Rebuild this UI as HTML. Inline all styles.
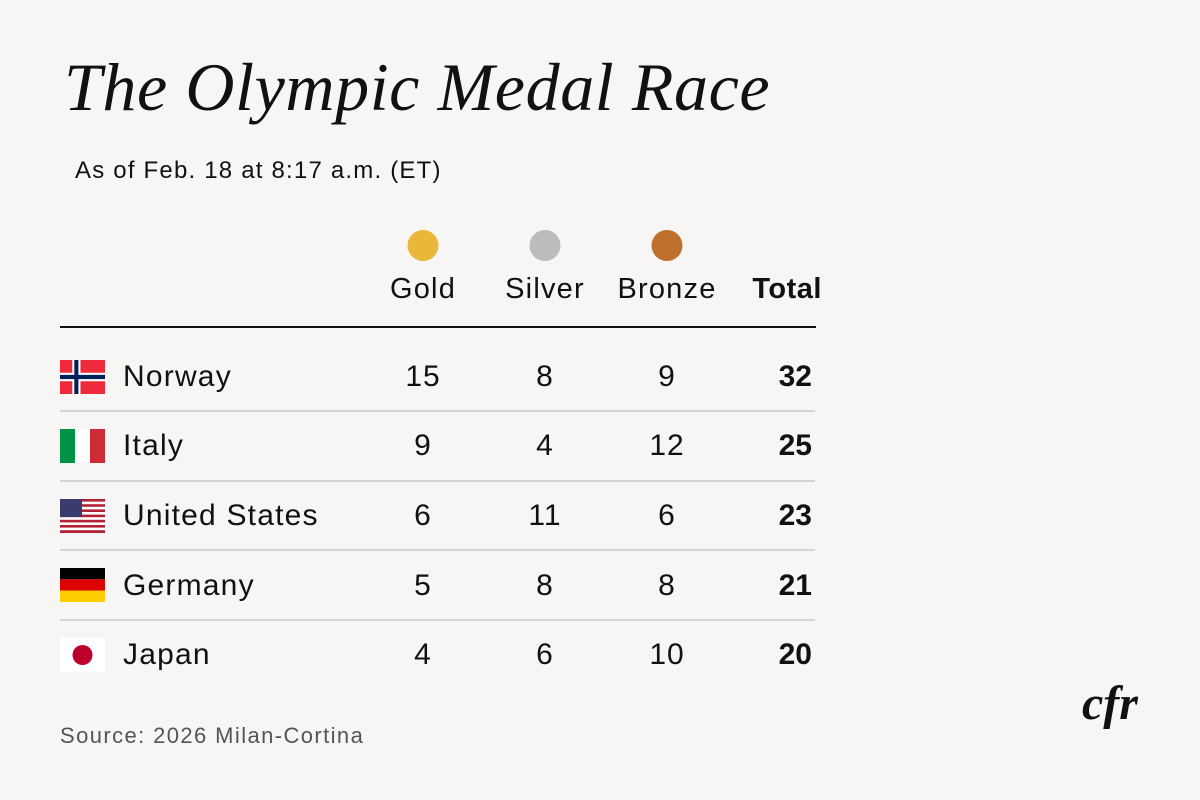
<!DOCTYPE html>
<html><head><meta charset="utf-8"><style>
body{margin:0;width:1200px;height:800px;background:#f7f6f4;position:relative;overflow:hidden;font-family:"Liberation Sans",sans-serif;color:#111}
.a{position:absolute;white-space:nowrap}
.t{left:64px;top:48px;font-family:"Liberation Serif",serif;font-style:italic;font-size:68px;letter-spacing:0.6px;color:#111}
.s{left:75px;top:157px;font-size:24px;letter-spacing:1.2px}
.h{top:273px;font-size:29px;letter-spacing:1.2px;transform:translateX(-50%)}
.c{top:230px;width:31px;height:31px;border-radius:50%;transform:translateX(-50%)}
.n{font-size:30px;letter-spacing:1px;transform:translate(-50%,-50%)}
.tot{font-size:30px;font-weight:bold;transform:translateY(-50%);right:388px}
.name{left:123px;font-size:30px;letter-spacing:1.2px;transform:translateY(-50%)}
.line{left:60px;width:755px;height:2px;background:#d6d5d3}
.flag{left:60px;width:45px;height:34px;overflow:hidden}
</style></head><body>
<div class="a t">The Olympic Medal Race</div>
<div class="a s">As of Feb. 18 at 8:17 a.m. (ET)</div>
<div class="a c" style="left:423px;background:#e9b83a"></div>
<div class="a c" style="left:545px;background:#bdbcbc"></div>
<div class="a c" style="left:667px;background:#c0702d"></div>
<div class="a h" style="left:423px">Gold</div>
<div class="a h" style="left:545px">Silver</div>
<div class="a h" style="left:667px">Bronze</div>
<div class="a" style="top:273px;right:378px;font-size:29px;font-weight:bold;letter-spacing:0.5px">Total</div>
<div class="a" style="left:60px;top:326px;width:756px;height:2px;background:#111"></div>
<div class="a line" style="top:410px"></div>
<div class="a line" style="top:480px"></div>
<div class="a line" style="top:549px"></div>
<div class="a line" style="top:619px"></div>

<svg class="a flag" style="top:360px" viewBox="0 0 22 16" preserveAspectRatio="none"><rect width="22" height="16" fill="#ee2a3b"/><rect x="6" width="4" height="16" fill="#fff"/><rect y="6" width="22" height="4" fill="#fff"/><rect x="7" width="2" height="16" fill="#00205b"/><rect y="7" width="22" height="2" fill="#00205b"/></svg>
<svg class="a flag" style="top:429px" viewBox="0 0 3 2" preserveAspectRatio="none"><rect width="1" height="2" fill="#009246"/><rect x="1" width="1" height="2" fill="#fff"/><rect x="2" width="1" height="2" fill="#ce2b37"/></svg>
<svg class="a flag" style="top:499px" viewBox="0 0 45 34"><rect width="45" height="34" fill="#fff"/><g fill="#b22234"><rect y="0" width="45" height="2.6"/><rect y="5.2" width="45" height="2.6"/><rect y="10.4" width="45" height="2.6"/><rect y="15.6" width="45" height="2.6"/><rect y="20.8" width="45" height="2.6"/><rect y="26" width="45" height="2.6"/><rect y="31.2" width="45" height="2.8"/></g><rect width="22" height="18" fill="#3c3b6e"/></svg>
<svg class="a flag" style="top:568px" viewBox="0 0 3 3" preserveAspectRatio="none"><rect width="3" height="1" fill="#000"/><rect y="1" width="3" height="1" fill="#dd0000"/><rect y="2" width="3" height="1" fill="#ffce00"/></svg>
<svg class="a flag" style="top:638px" viewBox="0 0 45 34"><rect width="45" height="34" fill="#fff"/><circle cx="22.5" cy="17" r="10" fill="#bc002d"/></svg>

<div class="a name" style="top:377px">Norway</div>
<div class="a name" style="top:446px">Italy</div>
<div class="a name" style="top:516px">United States</div>
<div class="a name" style="top:586px">Germany</div>
<div class="a name" style="top:655px">Japan</div>

<div class="a n" style="left:423px;top:377px">15</div><div class="a n" style="left:545px;top:377px">8</div><div class="a n" style="left:667px;top:377px">9</div><div class="a tot" style="top:377px">32</div>
<div class="a n" style="left:423px;top:446px">9</div><div class="a n" style="left:545px;top:446px">4</div><div class="a n" style="left:667px;top:446px">12</div><div class="a tot" style="top:446px">25</div>
<div class="a n" style="left:423px;top:516px">6</div><div class="a n" style="left:545px;top:516px">11</div><div class="a n" style="left:667px;top:516px">6</div><div class="a tot" style="top:516px">23</div>
<div class="a n" style="left:423px;top:586px">5</div><div class="a n" style="left:545px;top:586px">8</div><div class="a n" style="left:667px;top:586px">8</div><div class="a tot" style="top:586px">21</div>
<div class="a n" style="left:423px;top:655px">4</div><div class="a n" style="left:545px;top:655px">6</div><div class="a n" style="left:667px;top:655px">10</div><div class="a tot" style="top:655px">20</div>

<div class="a" style="left:60px;top:723px;font-size:22px;letter-spacing:1.4px;color:#555">Source: 2026 Milan-Cortina</div>
<div class="a" style="left:1082px;top:676px;font-family:'Liberation Serif',serif;font-style:italic;font-weight:bold;font-size:48px">cfr</div>
</body></html>
